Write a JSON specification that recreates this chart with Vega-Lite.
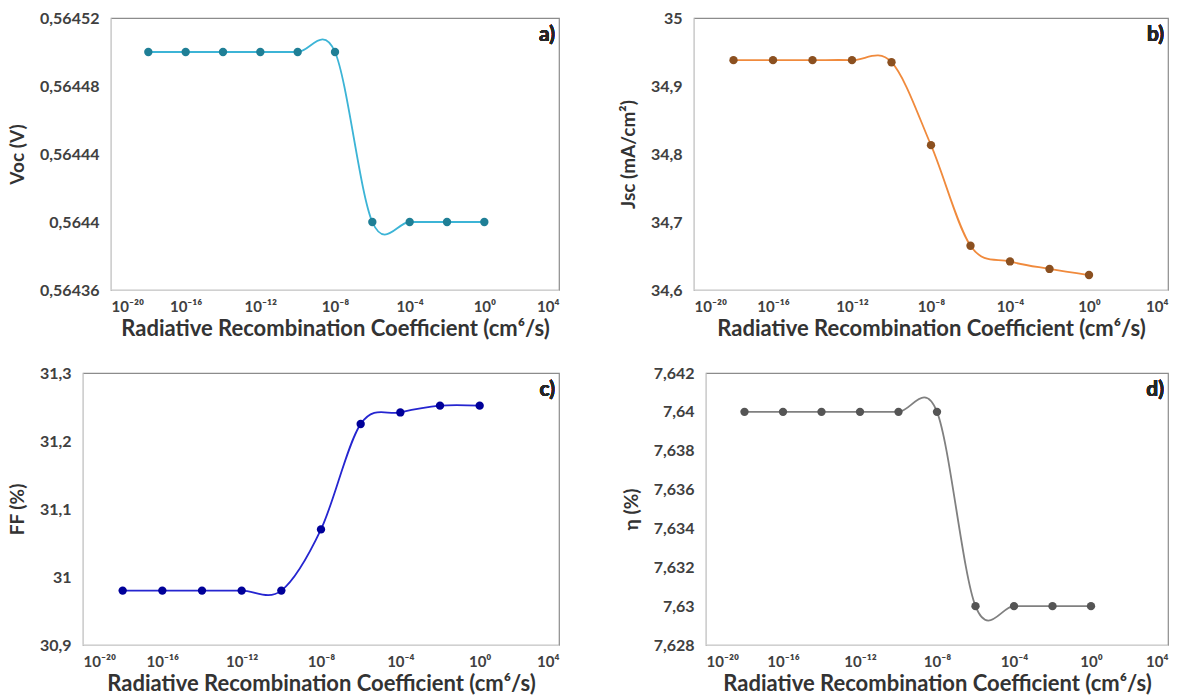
{
  "$schema": "https://vega.github.io/schema/vega-lite/v6.json",
  "background": "white",
  "padding": {"left": 0, "top": 9, "right": 5, "bottom": 0},
  "config": {
    "font": "Lato",
    "view": {"stroke": "#8c8c8c", "strokeWidth": 1.2},
    "axis": {
      "labelFont": "Lato", "labelFontWeight": "bold", "labelFontSize": 16, "labelColor": "#404040",
      "titleFont": "Lato", "titleFontWeight": "bold", "titleFontSize": 19, "titleColor": "#333333",
      "domainColor": "#d0d0d0", "ticks": false, "grid": false
    },
    "axisX": {"labelPadding": 9, "titlePadding": 4, "labelFontSize": 15, "titleFontSize": 22},
    "axisY": {"labelPadding": 12, "titlePadding": 12}
  },
  "datasets": {
    "rec": [
      {"coef": 1e-18, "voc": 0.5645, "jsc": 34.938, "ff": 30.98, "eta": 7.64},
      {"coef": 1e-16, "voc": 0.5645, "jsc": 34.938, "ff": 30.98, "eta": 7.64},
      {"coef": 1e-14, "voc": 0.5645, "jsc": 34.938, "ff": 30.98, "eta": 7.64},
      {"coef": 1e-12, "voc": 0.5645, "jsc": 34.938, "ff": 30.98, "eta": 7.64},
      {"coef": 1e-10, "voc": 0.5645, "jsc": 34.935, "ff": 30.98, "eta": 7.64},
      {"coef": 1e-8, "voc": 0.5645, "jsc": 34.813, "ff": 31.07, "eta": 7.64},
      {"coef": 1e-6, "voc": 0.5644, "jsc": 34.665, "ff": 31.225, "eta": 7.63},
      {"coef": 1e-4, "voc": 0.5644, "jsc": 34.642, "ff": 31.242, "eta": 7.63},
      {"coef": 1e-2, "voc": 0.5644, "jsc": 34.631, "ff": 31.252, "eta": 7.63},
      {"coef": 1, "voc": 0.5644, "jsc": 34.622, "ff": 31.252, "eta": 7.63}
    ],
    "blank": [{"k": 0}]
  },
  "spacing": 24,
  "vconcat": [
    {
      "spacing": 58,
      "hconcat": [
        {
          "spacing": 0,
          "hconcat": [
            {"width": 1, "height": 1, "data": {"name": "blank"}, "mark": {"type": "point", "opacity": 0}, "encoding": {}, "view": {"stroke": null}},
            {
              "width": 448, "height": 272,
              "data": {"name": "rec"},
              "encoding": {
                "x": {"field": "coef", "type": "quantitative", "scale": {"type": "log", "domain": [1e-20, 10000], "nice": false},
                      "axis": {"title": "Radiative Recombination Coefficient (cm⁶/s)", "values": [1e-20, 1e-16, 1e-12, 1e-8, 0.0001, 1, 10000],
                               "labelExpr": "['10⁻²⁰','10⁻¹⁶','10⁻¹²','10⁻⁸','10⁻⁴','10⁰','10⁴'][round((log(datum.value)/LN10+20)/4)]"}},
                "y": {"field": "voc", "type": "quantitative", "scale": {"domain": [0.56436, 0.56452], "nice": false, "zero": false},
                      "axis": {"title": "Voc (V)", "values": [0.56436, 0.5644, 0.56444, 0.56448, 0.56452], "labelExpr": "replace(format(datum.value, '.5~f'), '.', ',')"}}
              },
              "layer": [
                {"mark": {"type": "line", "interpolate": "cardinal", "color": "#3cb4d6", "strokeWidth": 1.8}},
                {"mark": {"type": "circle", "color": "#1f7f96", "size": 70, "opacity": 1}},
                {"mark": {"type": "text", "text": "a)", "align": "right", "baseline": "top", "dx": -4, "dy": 6, "fontSize": 21, "fontWeight": "bold", "color": "#262626"},
                 "encoding": {"x": {"datum": 10000}, "y": {"datum": 0.56452}}}
              ]
            }
          ]
        },
        {
          "width": 474, "height": 272,
          "data": {"name": "rec"},
          "encoding": {
            "x": {"field": "coef", "type": "quantitative", "scale": {"type": "log", "domain": [1e-20, 10000], "nice": false},
                  "axis": {"title": "Radiative Recombination Coefficient (cm⁶/s)", "values": [1e-20, 1e-16, 1e-12, 1e-8, 0.0001, 1, 10000],
                           "labelExpr": "['10⁻²⁰','10⁻¹⁶','10⁻¹²','10⁻⁸','10⁻⁴','10⁰','10⁴'][round((log(datum.value)/LN10+20)/4)]"}},
            "y": {"field": "jsc", "type": "quantitative", "scale": {"domain": [34.6, 35], "nice": false, "zero": false},
                  "axis": {"title": "Jsc (mA/cm²)", "values": [34.6, 34.7, 34.8, 34.9, 35], "labelExpr": "replace(format(datum.value, '.1~f'), '.', ',')"}}
          },
          "layer": [
            {"mark": {"type": "line", "interpolate": "cardinal", "color": "#f08a3c", "strokeWidth": 1.8}},
            {"mark": {"type": "circle", "color": "#8b5020", "size": 70, "opacity": 1}},
            {"mark": {"type": "text", "text": "b)", "align": "right", "baseline": "top", "dx": -4, "dy": 6, "fontSize": 21, "fontWeight": "bold", "color": "#262626"},
             "encoding": {"x": {"datum": 10000}, "y": {"datum": 35}}}
          ]
        }
      ]
    },
    {
      "spacing": 61,
      "hconcat": [
        {
          "spacing": 0,
          "hconcat": [
            {"width": 1, "height": 1, "data": {"name": "blank"}, "mark": {"type": "point", "opacity": 0}, "encoding": {}, "view": {"stroke": null}},
            {
              "width": 476, "height": 272,
              "data": {"name": "rec"},
              "encoding": {
                "x": {"field": "coef", "type": "quantitative", "scale": {"type": "log", "domain": [1e-20, 10000], "nice": false},
                      "axis": {"title": "Radiative Recombination Coefficient (cm⁶/s)", "values": [1e-20, 1e-16, 1e-12, 1e-8, 0.0001, 1, 10000],
                               "labelExpr": "['10⁻²⁰','10⁻¹⁶','10⁻¹²','10⁻⁸','10⁻⁴','10⁰','10⁴'][round((log(datum.value)/LN10+20)/4)]"}},
                "y": {"field": "ff", "type": "quantitative", "scale": {"domain": [30.9, 31.3], "nice": false, "zero": false},
                      "axis": {"title": "FF (%)", "values": [30.9, 31, 31.1, 31.2, 31.3], "labelExpr": "replace(format(datum.value, '.1~f'), '.', ',')"}}
              },
              "layer": [
                {"mark": {"type": "line", "interpolate": "cardinal", "color": "#2525d0", "strokeWidth": 1.8}},
                {"mark": {"type": "circle", "color": "#000099", "size": 70, "opacity": 1}},
                {"mark": {"type": "text", "text": "c)", "align": "right", "baseline": "top", "dx": -4, "dy": 6, "fontSize": 21, "fontWeight": "bold", "color": "#262626"},
                 "encoding": {"x": {"datum": 10000}, "y": {"datum": 31.3}}}
              ]
            }
          ]
        },
        {
          "width": 462, "height": 272,
          "data": {"name": "rec"},
          "encoding": {
            "x": {"field": "coef", "type": "quantitative", "scale": {"type": "log", "domain": [1e-20, 10000], "nice": false},
                  "axis": {"title": "Radiative Recombination Coefficient (cm⁶/s)", "values": [1e-20, 1e-16, 1e-12, 1e-8, 0.0001, 1, 10000],
                           "labelExpr": "['10⁻²⁰','10⁻¹⁶','10⁻¹²','10⁻⁸','10⁻⁴','10⁰','10⁴'][round((log(datum.value)/LN10+20)/4)]"}},
            "y": {"field": "eta", "type": "quantitative", "scale": {"domain": [7.628, 7.642], "nice": false, "zero": false},
                  "axis": {"title": "η (%)", "values": [7.628, 7.63, 7.632, 7.634, 7.636, 7.638, 7.64, 7.642], "labelExpr": "replace(format(datum.value, '.3~f'), '.', ',')"}}
          },
          "layer": [
            {"mark": {"type": "line", "interpolate": "cardinal", "color": "#808080", "strokeWidth": 1.8}},
            {"mark": {"type": "circle", "color": "#555555", "size": 70, "opacity": 1}},
            {"mark": {"type": "text", "text": "d)", "align": "right", "baseline": "top", "dx": -4, "dy": 6, "fontSize": 21, "fontWeight": "bold", "color": "#262626"},
             "encoding": {"x": {"datum": 10000}, "y": {"datum": 7.642}}}
          ]
        }
      ]
    }
  ]
}
